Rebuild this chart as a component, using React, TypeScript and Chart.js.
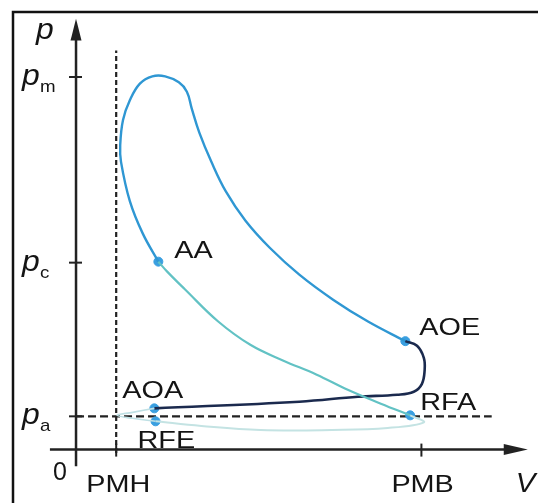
import React, { useEffect, useRef } from "react";
import { Chart, registerables } from "chart.js";

Chart.register(...registerables);

// Reference levels (V in units of clearance volume, p in units of atmospheric pressure)
const V_PMH = 1;
const V_PMB = 8.6;
const P_A = 1;
const P_C = 5.62;
const P_M = 11.2;

// Compression: RFA -> AA
const compV = [8.32, 7.59, 6.78, 5.98, 5.15, 4.34, 3.54, 2.71, 2.27, 2.05];
const compP = [1.03, 1.38, 1.79, 2.26, 2.68, 3.15, 3.85, 4.82, 5.35, 5.65];

// Combustion + expansion: AA -> AOE
const expV = [2.05, 1.66, 1.34, 1.12, 1.1, 1.17, 1.34, 1.59, 1.9, 2.22, 2.56, 2.76, 2.88, 3.07, 3.37, 3.73, 4.22, 4.83, 5.56, 6.41, 7.27, 8.2];
const expP = [5.65, 6.5, 7.47, 8.65, 9.15, 9.91, 10.5, 11.0, 11.22, 11.22, 11.04, 10.76, 10.26, 9.53, 8.65, 7.76, 6.88, 6.06, 5.26, 4.5, 3.85, 3.26];

// Exhaust: AOE -> AOA
const exhV = [8.2, 8.49, 8.66, 8.68, 8.61, 8.41, 8.0, 7.02, 5.56, 1.95];
const exhP = [3.26, 3.12, 2.76, 2.38, 1.97, 1.74, 1.65, 1.59, 1.44, 1.24];

// Valve overlap: AOA -> PMH -> RFE
const overV = [1.95, 1.41, 1.02, 1.41, 1.98];
const overP = [1.24, 1.12, 1.03, 0.94, 0.85];

// Intake: RFE -> RFA
const intV = [1.98, 3.12, 4.59, 6.37, 7.76, 8.66, 8.32];
const intP = [0.85, 0.71, 0.59, 0.59, 0.65, 0.82, 1.03];

// Characteristic points
const ptNames = ["AA", "AOE", "AOA", "RFE", "RFA"];
const ptV = [2.05, 8.2, 1.95, 1.98, 8.32];
const ptP = [5.65, 3.26, 1.24, 0.85, 1.03];

const yTickVals = [P_M, P_C, P_A];
const yTickSubs = ["m", "c", "a"];
const xTickVals = [V_PMH, V_PMB];
const xTickLabels = ["PMH", "PMB"];

const toXY = (xs: number[], ys: number[]) => xs.map((x, i) => ({ x, y: ys[i] }));

// label offsets (pixels) relative to the point
const labelOffsets: Record<string, [number, number]> = {
  AA: [16, -4],
  AOE: [14, -6],
  AOA: [-32, -10],
  RFE: [-18, 27],
  RFA: [10, -5],
};

const FONT = "Liberation Sans, Arial, sans-serif";

function stretchedText(ctx: CanvasRenderingContext2D, text: string, x: number, y: number, size: number, sx = 1.22, style = "") {
  ctx.save();
  ctx.font = `${style}${size}px ${FONT}`;
  ctx.translate(x, y);
  ctx.scale(sx, 1);
  ctx.fillStyle = "#141414";
  ctx.textBaseline = "alphabetic";
  ctx.fillText(text, 0, 0);
  ctx.restore();
}

const diagramPlugin = {
  id: "diagram",
  beforeDatasetsDraw(chart: any) {
    const ctx: CanvasRenderingContext2D = chart.ctx;
    const xs = chart.scales.x;
    const ys = chart.scales.y;
    const X = (v: number) => xs.getPixelForValue(v);
    const Y = (v: number) => ys.getPixelForValue(v);
    ctx.save();
    // frame
    ctx.strokeStyle = "#111";
    ctx.lineWidth = 2.5;
    ctx.beginPath();
    ctx.moveTo(13, 510);
    ctx.lineTo(13, 12);
    ctx.lineTo(545, 12);
    ctx.stroke();

    const x0 = X(0);
    const y0 = Y(0);
    ctx.strokeStyle = "#222";
    ctx.fillStyle = "#222";
    ctx.lineWidth = 2.5;
    // y axis
    ctx.beginPath();
    ctx.moveTo(x0, Y(-0.5));
    ctx.lineTo(x0, Y(12.6));
    ctx.stroke();
    ctx.beginPath();
    ctx.moveTo(x0, Y(12.95));
    ctx.lineTo(x0 - 5.5, Y(12.3));
    ctx.lineTo(x0 + 5.5, Y(12.3));
    ctx.closePath();
    ctx.fill();
    // x axis
    ctx.beginPath();
    ctx.moveTo(X(-0.65), y0);
    ctx.lineTo(X(10.8), y0);
    ctx.stroke();
    ctx.beginPath();
    ctx.moveTo(X(11.25), y0);
    ctx.lineTo(X(10.65), y0 - 5.5);
    ctx.lineTo(X(10.65), y0 + 5.5);
    ctx.closePath();
    ctx.fill();

    // ticks
    ctx.lineWidth = 2;
    yTickVals.forEach((v) => {
      ctx.beginPath();
      ctx.moveTo(x0 - 7, Y(v));
      ctx.lineTo(x0 + 6, Y(v));
      ctx.stroke();
    });
    xTickVals.forEach((v) => {
      ctx.beginPath();
      ctx.moveTo(X(v), y0 - 6);
      ctx.lineTo(X(v), y0 + 7);
      ctx.stroke();
    });

    // dashed reference lines
    ctx.lineWidth = 2.2;
    ctx.setLineDash([5, 3]);
    ctx.beginPath();
    ctx.moveTo(X(V_PMH), Y(-0.1));
    ctx.lineTo(X(V_PMH), Y(12.0));
    ctx.stroke();
    ctx.setLineDash([8, 4]);
    ctx.beginPath();
    ctx.moveTo(X(0), Y(P_A));
    ctx.lineTo(X(10.35), Y(P_A));
    ctx.stroke();
    ctx.setLineDash([]);
    ctx.restore();
  },
  afterDatasetsDraw(chart: any) {
    const ctx: CanvasRenderingContext2D = chart.ctx;
    const xs = chart.scales.x;
    const ys = chart.scales.y;
    const X = (v: number) => xs.getPixelForValue(v);
    const Y = (v: number) => ys.getPixelForValue(v);
    const x0 = X(0);
    const y0 = Y(0);
    // axis names
    stretchedText(ctx, "p", x0 - 40, Y(12.35), 29, 1.1, "italic ");
    stretchedText(ctx, "V", X(10.95), y0 + 42, 28, 1.05, "italic ");
    stretchedText(ctx, "0", x0 - 23, y0 + 30, 25, 1.0);
    // y tick labels
    yTickVals.forEach((v, i) => {
      stretchedText(ctx, "p", x0 - 54, Y(v) + 8, 29, 1.1, "italic ");
      stretchedText(ctx, yTickSubs[i], x0 - 36, Y(v) + 15, 17, 1.1);
    });
    // x tick labels
    xTickVals.forEach((v, i) => {
      stretchedText(ctx, xTickLabels[i], X(v) - 30, y0 + 42, 24, 1.2);
    });
    // point labels
    ptNames.forEach((n, i) => {
      const [dx, dy] = labelOffsets[n];
      stretchedText(ctx, n, X(ptV[i]) + dx, Y(ptP[i]) + dy, 24, 1.2);
    });
  },
};

export default function App() {
  const ref = useRef<HTMLCanvasElement | null>(null);
  useEffect(() => {
    if (!ref.current) return;
    const line = (data: any, color: string, width = 2.2) => ({
      type: "line" as const,
      data,
      borderColor: color,
      borderWidth: width,
      pointRadius: 0,
      showLine: true,
      fill: false,
      tension: 0.4,
    });
    const chart = new Chart(ref.current, {
      type: "scatter",
      data: {
        datasets: [
          line(toXY(intV, intP), "#c4e3e3", 2),
          line(toXY(overV, overP), "#bfe0e4", 1.6),
          line(toXY(compV, compP), "#62c2c4", 2.2),
          line(toXY(exhV, exhP), "#1b2a4e", 2.6),
          line(toXY(expV, expP), "#2f97d3", 2.4),
          {
            type: "scatter" as const,
            data: toXY(ptV, ptP),
            backgroundColor: "#3a9fe0",
            borderColor: "#3a9fe0",
            pointRadius: 4.5,
            pointHoverRadius: 4.5,
          },
        ] as any,
      },
      options: {
        animation: false,
        responsive: false,
        maintainAspectRatio: false,
        layout: { padding: 0 },
        plugins: { legend: { display: false }, tooltip: { enabled: false } },
        events: [],
        scales: {
          x: { type: "linear", min: -1.756, max: 11.366, display: false },
          y: { type: "linear", min: -1.44, max: 13.35, display: false },
        },
      },
      plugins: [diagramPlugin],
    });
    return () => chart.destroy();
  }, []);
  return (
    <div style={{ position: "absolute", left: 0, top: 0, width: 538, height: 503, background: "#fff" }}>
      <canvas ref={ref} width={538} height={503} style={{ display: "block" }} />
    </div>
  );
}
